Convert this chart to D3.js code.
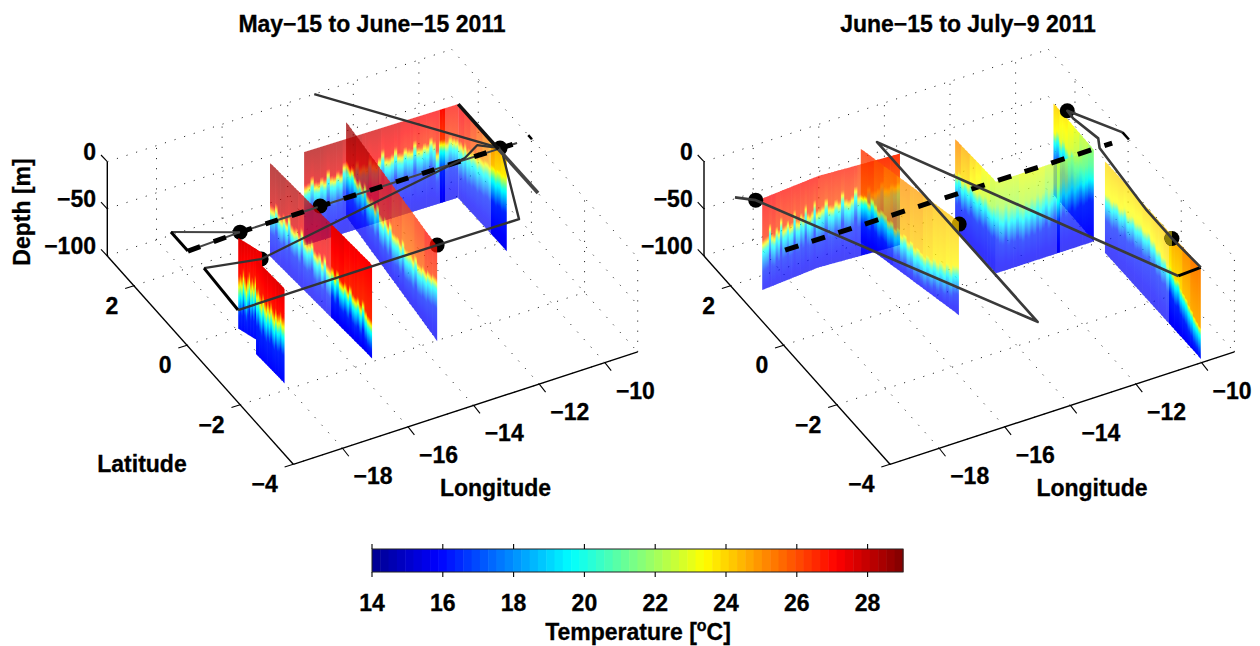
<!DOCTYPE html>
<html>
<head>
<meta charset="utf-8">
<script src="https://cdnjs.cloudflare.com/ajax/libs/d3/7.8.5/d3.min.js"></script>
<style>
html,body{margin:0;padding:0;background:#fff}
svg{display:block}
text{font-family:"Liberation Sans",Arial,sans-serif;font-weight:bold;font-size:23px;fill:#000;stroke:#000;stroke-width:.3px}
</style>
</head>
<body>
<svg id="chart" width="1260" height="646"></svg>
<script>
// ---------- data ----------
const panelTitles = ["May\u221215 to June\u221215 2011", "June\u221215 to July\u22129 2011"];
const lonTicks = [-18, -16, -14, -12, -10];
const latTicks = [-4, -2, 0, 2];
const depthTicks = [0, -50, -100];
const colorTicks = [14, 16, 18, 20, 22, 24, 26, 28];

// opacity bands along a section: n equal bands of "base", with some replaced
const bands = (n, base, over) => d3.range(n).map(i => (i in over ? over[i] : base));

// Left panel sections: path (lon,lat), surface temperature, depth of the 20C isotherm per profile
const mayD = {path: [[-14.65, 1.58], [-10.0, 1.52]], bottom: 99, above: 12, below: 20, deep: 15.6, alpha: bands(34, .72, {30: 1}),
  t0: [28.3, 28.2, 28, 27.8, 27.6, 27.4, 27.2, 27],
  z20: [47,46,40,47,48,44,47,38,46,47,43,46,36,45,46,44,38,45,44,46,39,45,47,42,35,44,45,43,37,44,45,40,43,44,36,44,45,42,44,38,43,55,44,45,47,43,46,48]};
const mayE = {path: [[-10.0, 1.52], [-9.97, -0.27]], bottom: 100, above: 14, below: 24, deep: 15.6, alpha: [.72, .72, 1],
  t0: [27.3, 27, 26.5, 26, 25.5, 25, 24.6, 24.3],
  z20: [52,50,52,47,51,48,49,46,46,48,44,44,45,42,41,43,40,39,41,38,37,39,37,36]};
const mayC = {path: [[-13.03, 2.0], [-13.51, -2.02]], bottom: 100, above: 12, below: 20, deep: 15.6, alpha: [.75],
  t0: [28.6, 28.3, 27.8, 27, 26.5, 26.2, 26.5, 27],
  z20: [52,54,50,55,57,53,56,49,57,58,55,59,52,60,61,56,60,53,61,60,58,61,54,60,59,57,59,52,57,56,53,54,50,50,47,46]};
const mayB = {path: [[-15.69, 1.58], [-15.43, -1.94]], bottom: 99, above: 13, below: 18, deep: 15.6, alpha: [.72, .72, .72, 1, 1],
  t0: [28.5, 28.3, 28, 27.8, 27.5, 27.3, 27.2],
  z20: [56,55,49,56,57,52,56,47,55,56,53,57,48,56,57,54,50,58,59,55,60,52,60,61,57,62,55,62,63,60,64,58,64,65,62,67,60,68,71,72]};
const mayA1 = {path: [[-18.02, -0.1], [-17.77, -0.69]], bottom: 96, above: 22, below: 20, deep: 15.9, alpha: [1],
  t0: [27.6, 27.5, 27.5, 27.4],
  z20: [62,58,60,51,58,63,56,50,59,54,58,50,56,62,55,60]};
const mayA2 = {path: [[-18.06, -0.82], [-18.0, -1.82]], bottom: 100, above: 20, below: 20, deep: 15.9, alpha: [1],
  t0: [27.4, 27.5, 27.5, 27.6],
  z20: [50,47,52,55,48,53,56,50,54,48,53,56,50,54,52,48,52,51]};

// Right panel sections
const junA = {path: [[-18.9, 1.55], [-17.11, 1.66], [-14.7, 1.55]], bottom: 97, above: 12, below: 22, deep: 15.6, alpha: [.72, .72, .72, .72, .72, .95, .95],
  t0: [27.2, 27, 27, 27, 26.8, 26.8, 26.5, 26.5],
  z20: [56,55,54,42,53,55,48,52,40,51,50,46,51,50,38,49,50,44,48,37,47,49,46,36,48,47,45,38,46,47,42,45,35,44,46,43,34,44,43,45,37,43,44,42,36,43,44,41,43,42]};
const junB = {path: [[-15.53, 2.0], [-14.75, -0.73]], bottom: 99, above: 10, below: 20, deep: 15.6, alpha: [.8, .74, .74],
  t0: [26.4, 26, 25.5, 25, 24.8, 24.5, 24.3, 24.2],
  z20: [58,56,60,53,57,61,58,60,64,62,67,64,69,66,71,68,73,70,72,74,70,72,68,70,66,68,63,65,60,58]};
const junC1 = {path: [[-13.1, 1.45], [-13.03, 0.0]], bottom: 97, above: 10, below: 22, deep: 15.6, alpha: [.8],
  t0: [25, 24.5, 24, 23.7, 23.3, 22.8],
  z20: [45,41,46,42,44,39,42,43,39,41,37,40,41,38]};
const junC2 = {path: [[-13.03, 0.0], [-10.05, 0.0]], bottom: 97, above: 14, below: 24, deep: 15.6, alpha: bands(32, .75, {20: 1}),
  t0: [22.8, 22.8, 23, 23, 22.7, 22.5, 22, 21.6],
  z20: [38,43,45,40,47,44,46,42,46,49,44,47,43,46,41,45,42,38,44,40,36,41,38,33,37,34,30,35,32,29,32,30,28,30]};
const junD = {path: [[-10.02, 1.55], [-10.05, 0.0]], bottom: 97, above: 10, below: 24, deep: 15.8, alpha: [.9],
  t0: [24, 23.7, 23.4, 23, 22.5, 22],
  z20: [40,35,42,37,41,44,37,42,39,36,40,35,32,30]};
const junE = {path: [[-10.03, -0.4], [-10.0, -3.97]], bottom: 97, above: 8, below: 20, deep: 15.6, alpha: [.72, .72, 1],
  t0: [24, 24, 23.9, 23.9, 24, 24.1, 24.3, 24.6, 25, 25.3],
  z20: [42,41,43,40,38,41,39,35,39,37,34,37,35,33,36,35,32,37,35,40,38,42,40,45,43,47,50,48,54,56,58,62,64,68,70,72]};

// Buoys (lon,lat)
const mayBuoys = [[-17.85, 0.04], [-15.41, 0.04], [-9.94, 0.02], [-17.92, -0.84], [-13.47, -1.97]];
const junBuoysBehind = [[-19.09, 1.56], [-14.79, -0.79], [-9.85, 1.24]];
const junBuoysFront = [[-10.07, -2.97]];

// Tracks (lon,lat)
const mayDashed = [[-19.48, -0.01], [-17.85, 0.04], [-9.43, 0.01]];
const mayThinA = [[-19.48, 0.63], [-17.85, 0.04]];
const mayBlackA = [[-19.48, 0.63], [-19.48, -0.01]];
const mayThinB = [[-19.46, -0.59], [-17.92, -0.84], [-10.98, 0.06], [-10.42, 0.29], [-9.94, 0.02]];
const mayBlackB = [[-19.46, -0.59], [-19.54, -1.97]];
const mayLineC = [[-19.54, -1.97], [-13.47, -1.97], [-10.99, -1.99], [-10.02, -0.19]];
const mayLong = [[-13.19, 3.0], [-9.94, 0.02]];
const mayBlackD = [[-10.0, 1.52], [-10.0, 0.0]];
const mayGreyD = [[-10.0, 0.0], [-9.99, -1.47]];
const mayEnd = [[-9.0, 0.12], [-9.0, -0.02]];

const junDashed = [[-19.45, 0.01], [-9.47, 0.02]];
const junTrack = [[-19.52, 1.81], [-19.09, 1.56], [-15.0, -4.0], [-15.0, 2.04], [-10.71, -4.0]];
const junBlack = [[-10.71, -4.0], [-10.0, -3.97]];
const junTrackB = [[-10.0, -3.97], [-10.07, -2.97], [-10.07, -2.02], [-9.87, 0.0], [-9.7, 0.26], [-9.87, 0.99], [-9.85, 1.24], [-9.0, 0.21]];
const junEnd = [[-9.0, 0.21], [-9.0, -0.03]];

// ---------- scales ----------
const jetDomain = [14, 15.875, 19.625, 23.375, 27.125, 29];
const jetRange = ["rgb(0,0,143)", "rgb(0,0,255)", "rgb(0,255,255)", "rgb(255,255,0)", "rgb(255,0,0)", "rgb(128,0,0)"];
const jet = d3.scaleLinear().domain(jetDomain).range(jetRange).clamp(true);

const cornerY = 464.3;
const leftX = 293.3, rightX = 890;
const lonX = d3.scaleLinear().domain([-19.5, -9]).range([0, 344.4]);
const lonY = d3.scaleLinear().domain([-19.5, -9]).range([0, -112.35]);
const latX = d3.scaleLinear().domain([-4, 3]).range([0, -186]);
const latY = d3.scaleLinear().domain([-4, 3]).range([0, -208.3]);
const depY = d3.scaleLinear().domain([-100, 0]).range([0, -94.3]);
const project = (ox, lon, lat, dep) => [ox + lonX(lon) + latX(lat), cornerY + lonY(lon) + latY(lat) + depY(dep)];

const svg = d3.select("#chart");
const defs = svg.append("defs");
const lineGen = d3.line();
let uid = 0;

function seg(g, a, b, cls) {
  g.append("line").attr("x1", a[0]).attr("y1", a[1]).attr("x2", b[0]).attr("y2", b[1]).attr("class", cls)
    .attr("stroke", "#000").attr("stroke-width", cls === "tick" ? 1.1 : 1.4);
}

function drawAxes(g, ox) {
  const gridG = g.append("g").attr("fill", "none").attr("stroke", "#222").attr("stroke-width", 1)
    .attr("stroke-dasharray", "1.1 9");
  const gl = (a, b) => gridG.append("path").attr("d", lineGen([a, b]));
  lonTicks.forEach(lo => {
    gl(project(ox, lo, -4, -100), project(ox, lo, 3, -100));
    gl(project(ox, lo, 3, -100), project(ox, lo, 3, 0));
  });
  latTicks.forEach(la => {
    gl(project(ox, -19.5, la, -100), project(ox, -9, la, -100));
    gl(project(ox, -9, la, -100), project(ox, -9, la, 0));
  });
  depthTicks.forEach(d => {
    gl(project(ox, -19.5, 3, d), project(ox, -9, 3, d));
    gl(project(ox, -9, 3, d), project(ox, -9, -4, d));
  });
  seg(g, project(ox, -19.5, -4, -100), project(ox, -9, -4, -100), "axis");
  seg(g, project(ox, -19.5, -4, -100), project(ox, -19.5, 3, -100), "axis");
  seg(g, project(ox, -19.5, 3, -100), project(ox, -19.5, 3, 0), "axis");
  lonTicks.forEach(lo => {
    const p = project(ox, lo, -4, -100);
    seg(g, p, [p[0] + 6.3, p[1] + 8], "tick");
    g.append("text").attr("x", p[0] + 30.5).attr("y", p[1] + 36).attr("text-anchor", "middle")
      .text(String(lo).replace("-", "\u2212"));
  });
  latTicks.forEach(la => {
    const p = project(ox, -19.5, la, -100);
    seg(g, p, [p[0] - 8.7, p[1] + 2.7], "tick");
    g.append("text").attr("x", p[0] - 15.5).attr("y", p[1] + 28).attr("text-anchor", "end")
      .text(String(la).replace("-", "\u2212"));
  });
  depthTicks.forEach(d => {
    const p = project(ox, -19.5, 3, d);
    seg(g, p, [p[0] - 6.3, p[1] - 6.7], "tick");
    g.append("text").attr("x", p[0] - 11.3).attr("y", p[1] - 2).attr("text-anchor", "end")
      .text(String(d).replace("-", "\u2212"));
  });
}

function drawCurtain(g, ox, c) {
  const id = ++uid;
  const n = c.z20.length;
  const fr = c.path.map((_, i) => i / (c.path.length - 1));
  const lonAt = d3.scaleLinear().domain(fr).range(c.path.map(p => p[0]));
  const latAt = d3.scaleLinear().domain(fr).range(c.path.map(p => p[1]));
  const t0At = d3.scaleQuantize().domain([0, 1]).range(c.t0);
  const startP = project(ox, lonAt(0), latAt(0), 0), endP = project(ox, lonAt(1), latAt(1), 0);

  const ag = defs.append("linearGradient").attr("id", "ag" + id).attr("gradientUnits", "userSpaceOnUse")
    .attr("x1", startP[0]).attr("y1", 0).attr("x2", endP[0]).attr("y2", 0);
  c.alpha.forEach((a, i) => {
    ag.append("stop").attr("offset", i / c.alpha.length).attr("stop-color", "#fff").attr("stop-opacity", a);
    ag.append("stop").attr("offset", (i + 1) / c.alpha.length).attr("stop-color", "#fff").attr("stop-opacity", a);
  });
  const m = defs.append("mask").attr("id", "mk" + id).attr("maskUnits", "userSpaceOnUse")
    .attr("x", 0).attr("y", 0).attr("width", 1260).attr("height", 646);
  m.append("rect").attr("width", 1260).attr("height", 646).attr("fill", `url(#ag${id})`);

  const cg = g.append("g").attr("mask", `url(#mk${id})`);
  c.z20.forEach((z, i) => {
    const f0 = i / n, f1 = (i + 1) / n;
    const a = project(ox, lonAt(f0), latAt(f0), 0);
    const b = project(ox, lonAt(f1), latAt(f1), 0);
    const b2 = project(ox, lonAt(f1), latAt(f1), -c.bottom);
    const a2 = project(ox, lonAt(f0), latAt(f0), -c.bottom);
    const H = a2[1] - a[1];
    const ex = b[0] - a[0], ey = b[1] - a[1], el = Math.hypot(ex, ey);
    const nx = -ey / el, ny = ex / el;
    const dot = H * ny;
    const gx = nx * dot, gy = ny * dot;
    const mx = (a[0] + b[0]) / 2, my = (a[1] + b[1]) / 2;
    const t0 = t0At((f0 + f1) / 2);
    const top = Math.max(z - c.above, 0.5);
    const prof = d3.scaleLinear()
      .domain([0, top, z, z + c.below, 100.5])
      .range([t0, z - c.above > 0 ? t0 - 0.7 : t0, 20, 16.4, c.deep]).clamp(true);
    const grad = defs.append("linearGradient").attr("id", `c${id}_${i}`).attr("gradientUnits", "userSpaceOnUse")
      .attr("x1", mx).attr("y1", my).attr("x2", mx + gx).attr("y2", my + gy);
    d3.range(0, c.bottom + 0.1, 2).forEach(d => {
      grad.append("stop").attr("offset", d / c.bottom).attr("stop-color", jet(prof(d)));
    });
    const seam = i < n - 1 ? 0.7 : 0;
    cg.append("path")
      .attr("d", lineGen([a, [b[0] + seam, b[1]], [b2[0] + seam, b2[1]], a2]) + "Z")
      .attr("fill", `url(#c${id}_${i})`);
  });
}

function track(g, ox, pts, color, w, dash) {
  const p = g.append("path").attr("d", lineGen(pts.map(q => project(ox, q[0], q[1], 0))))
    .attr("fill", "none").attr("stroke", color).attr("stroke-width", w).attr("stroke-linejoin", "round");
  if (dash) p.attr("stroke-dasharray", dash);
}

function buoys(g, ox, pts) {
  g.selectAll(null).data(pts).enter().append("circle")
    .attr("cx", d => project(ox, d[0], d[1], 0)[0])
    .attr("cy", d => project(ox, d[0], d[1], 0)[1])
    .attr("r", 7.5).attr("fill", "#000");
}

// left half of a buoy seen through the curtain in front of it
function buoyTint(g, ox, pts, color) {
  g.selectAll(null).data(pts).enter().append("path")
    .attr("transform", d => { const p = project(ox, d[0], d[1], 0); return `translate(${p[0]},${p[1]})`; })
    .attr("d", d3.arc()({innerRadius: 0, outerRadius: 7.5, startAngle: Math.PI, endAngle: 2 * Math.PI}))
    .attr("fill", color);
}

// ---------- left panel ----------
const L = svg.append("g");
drawAxes(L, leftX);
drawCurtain(L, leftX, mayD);
buoys(L, leftX, mayBuoys);
[mayE, mayC, mayB, mayA1, mayA2].forEach(c => drawCurtain(L, leftX, c));
track(L, leftX, mayDashed, "#444", 2);
track(L, leftX, mayDashed, "#000", 5, "13 14.4");
track(L, leftX, mayThinA, "#444", 2);
track(L, leftX, mayBlackA, "#000", 3);
track(L, leftX, mayThinB, "#333", 2.2);
track(L, leftX, mayBlackB, "#000", 3);
track(L, leftX, mayLineC, "#333", 2.4);
track(L, leftX, mayLong, "#333", 2.4);
track(L, leftX, mayBlackD, "#111", 3.6);
track(L, leftX, mayGreyD, "#444", 3.6);
track(L, leftX, mayEnd, "#000", 2.5);

// ---------- right panel ----------
const R = svg.append("g");
drawAxes(R, rightX);
[junA, junD, junC1, junC2].forEach(c => drawCurtain(R, rightX, c));
buoys(R, rightX, junBuoysBehind);
[junB, junE].forEach(c => drawCurtain(R, rightX, c));
buoys(R, rightX, junBuoysFront);
buoyTint(R, rightX, junBuoysFront, "#8a7d08");
track(R, rightX, junDashed, "#000", 5, "14 14");
track(R, rightX, junTrack, "#3a3a3a", 2.7);
track(R, rightX, junBlack, "#000", 3);
track(R, rightX, junTrackB, "#3a3a3a", 2.6);
track(R, rightX, junEnd, "#000", 2.5);

// ---------- text ----------
svg.append("text").attr("x", 372).attr("y", 32).attr("text-anchor", "middle").text(panelTitles[0]);
svg.append("text").attr("x", 968).attr("y", 32).attr("text-anchor", "middle").text(panelTitles[1]);
svg.append("text").attr("x", 142).attr("y", 471.5).attr("text-anchor", "middle").text("Latitude");
svg.append("text").attr("x", 495.5).attr("y", 495.5).attr("text-anchor", "middle").text("Longitude");
svg.append("text").attr("x", 1092).attr("y", 495.5).attr("text-anchor", "middle").text("Longitude");
svg.append("text").attr("transform", "translate(30,212) rotate(-90)").attr("text-anchor", "middle").text("Depth [m]");

// ---------- colorbar ----------
const cbX = d3.scaleLinear().domain([14, 29]).range([372, 903]);
const cbTop = 549, cbBottom = 572;
const cbSteps = d3.range(14, 29, 15 / 64);
const cb = svg.append("g");
cb.selectAll("rect.s").data(cbSteps).enter().append("rect").attr("class", "s")
  .attr("x", d => cbX(d)).attr("y", cbTop)
  .attr("width", 531 / 64 + 0.5).attr("height", cbBottom - cbTop)
  .attr("fill", d => jet(d + 15 / 128));
cb.append("rect").attr("x", 372).attr("y", cbTop).attr("width", 531).attr("height", cbBottom - cbTop)
  .attr("fill", "none").attr("stroke", "#222").attr("stroke-width", 1);
colorTicks.forEach(t => {
  seg(cb, [cbX(t), cbTop - 5], [cbX(t), cbTop], "tick");
  seg(cb, [cbX(t), cbBottom], [cbX(t), cbBottom + 5], "tick");
  cb.append("text").attr("x", cbX(t)).attr("y", 611).attr("text-anchor", "middle").text(t);
});
const lab = cb.append("text").attr("x", 638).attr("y", 640).attr("text-anchor", "middle");
lab.append("tspan").text("Temperature [");
lab.append("tspan").attr("dy", -9).style("font-size", "16px").text("o");
lab.append("tspan").attr("dy", 9).text("C]");
</script>
</body>
</html>
